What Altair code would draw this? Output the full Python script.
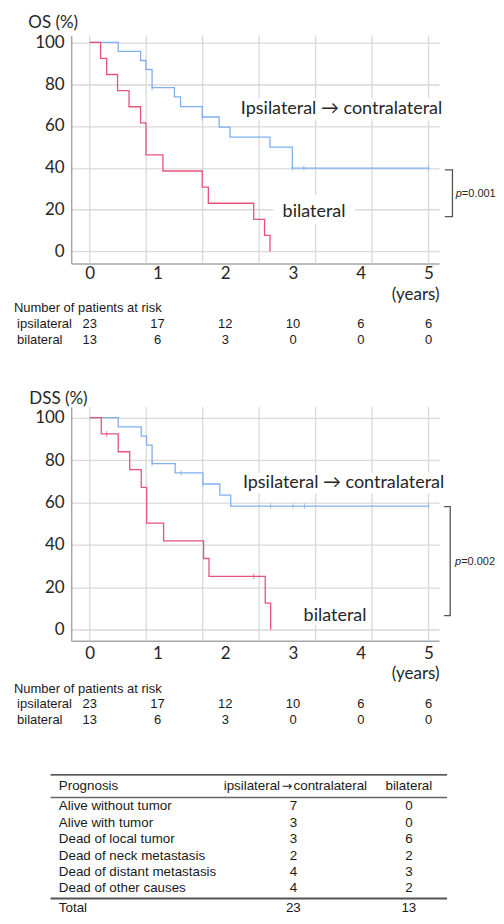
import altair as alt
import pandas as pd

# ---------------- data ----------------
years = [0, 1, 2, 3, 4, 5]
grid_months = [0, 10, 20, 30, 40, 50, 60]
y_ticks = [0, 20, 40, 60, 80, 100]

# OS curves (years, survival %)
os_ipsi_t = [0, 0.42, 0.75, 0.83, 0.92, 1.25, 1.34, 1.66, 1.91, 2.07, 2.66, 2.99, 5.0]
os_ipsi_s = [100, 95.7, 91.3, 87.0, 78.3, 73.9, 69.3, 64.3, 59.5, 54.7, 49.9, 39.9, 39.9]
os_ipsi_cens_t = [0.92, 1.66, 2.99, 3.16, 5.0]
os_ipsi_cens_s = [78.3, 64.3, 39.9, 39.9, 39.9]
os_bil_t = [0, 0.16, 0.25, 0.41, 0.58, 0.75, 0.83, 1.08, 1.66, 1.75, 2.42, 2.58, 2.66]
os_bil_s = [100, 92.3, 84.6, 76.9, 69.2, 61.5, 46.2, 38.5, 30.8, 23.1, 15.4, 7.7, 0]
os_bil_cens_t = []
os_bil_cens_s = []

# DSS curves
dss_ipsi_t = [0, 0.42, 0.76, 0.84, 0.92, 1.26, 1.67, 1.92, 2.08, 5.0]
dss_ipsi_s = [100, 95.6, 91.3, 87.0, 78.3, 73.9, 68.7, 63.5, 58.3, 58.3]
dss_ipsi_cens_t = [0.92, 1.35, 1.67, 2.67, 3.0, 3.17, 5.0]
dss_ipsi_cens_s = [78.3, 73.9, 68.7, 58.3, 58.3, 58.3, 58.3]
dss_bil_t = [0, 0.17, 0.42, 0.59, 0.76, 0.84, 1.09, 1.68, 1.76, 2.59, 2.67]
dss_bil_s = [100, 92.3, 83.9, 75.5, 67.1, 50.3, 41.9, 33.6, 25.2, 12.6, 0]
dss_bil_cens_t = [0.25, 2.42]
dss_bil_cens_s = [92.3, 25.2]

# numbers at risk
risk_years = [0, 1, 2, 3, 4, 5]
risk_ipsi = [23, 17, 12, 10, 6, 6]
risk_bil = [13, 6, 3, 0, 0, 0]

# prognosis table
prog_rows = ["Alive without tumor", "Alive with tumor", "Dead of local tumor",
             "Dead of neck metastasis", "Dead of distant metastasis", "Dead of other causes"]
prog_ipsi = [7, 3, 3, 2, 4, 4]
prog_bil = [0, 0, 6, 2, 3, 2]
prog_header = ["Prognosis", "ipsilateral", "\u2192", "contralateral", "bilateral"]

# ---------------- style ----------------
BLUE = "#80B0EE"
RED = "#E8537A"
GRID = "#D9D9D9"
AXIS = "#A6A6A6"
TXT = "#262626"
CAL = "Lato"
ARIAL = "Liberation Sans"
W = 368.6
X_DOM = [-0.274, 5.156]


def km_panel(name, ipsi, ipsi_c, bil, bil_c, y_dom, h, title_x, title_y, lab_pad,
             years_y, labels, boxes, bracket, pval):
    bx = alt.X("t:Q", scale=alt.Scale(domain=X_DOM, nice=False, zero=False),
               axis=alt.Axis(values=years, grid=False, ticks=False, domainColor=AXIS,
                             domainWidth=1.5, labelFont=CAL, labelFontSize=17,
                             labelColor=TXT, labelPadding=lab_pad, title="(years)",
                             titleFont=CAL, titleFontSize=17, titleFontWeight="normal",
                             titleColor=TXT, titleX=W, titleY=years_y, titleAlign="right",
                             titleBaseline="middle"))
    by = alt.Y("s:Q", scale=alt.Scale(domain=y_dom, nice=False, zero=False),
               axis=alt.Axis(values=y_ticks, grid=True, gridColor=GRID, gridWidth=1.3,
                             ticks=False, domainColor=AXIS, domainWidth=1.5,
                             labelFont=CAL, labelFontSize=17, labelColor=TXT,
                             labelPadding=7, title=name, titleAngle=0, titleX=title_x,
                             titleY=title_y, titleAlign="left", titleBaseline="middle",
                             titleFont=CAL, titleFontSize=17, titleFontWeight="normal",
                             titleColor=TXT))
    grid = (alt.Chart(pd.DataFrame({"m": grid_months}))
            .transform_calculate(t="datum.m / 12")
            .mark_rule(color=GRID, strokeWidth=1.3)
            .encode(x=bx))
    box = (alt.Chart(pd.DataFrame(boxes, columns=["t", "t2", "s", "s2"]))
           .mark_rect(color="white")
           .encode(x=bx, x2="t2:Q", y=by, y2="s2:Q"))
    layers = [grid, box]
    for (t, s), (ct, cs), col in [(ipsi, ipsi_c, BLUE), (bil, bil_c, RED)]:
        layers.append(alt.Chart(pd.DataFrame({"t": t, "s": s}))
                      .mark_line(interpolate="step-after", color=col, strokeWidth=1.3)
                      .encode(x=bx, y=by))
        if ct:
            layers.append(alt.Chart(pd.DataFrame({"t": ct, "s": cs}))
                          .mark_tick(orient="vertical", size=5.5, thickness=1.1, color=col)
                          .encode(x=bx, y=by))
    for lab, t, s, al in labels:
        layers.append(alt.Chart(pd.DataFrame({"t": [t], "s": [s], "label": [lab]}))
                      .mark_text(font=CAL, fontSize=18, color=TXT, align=al, baseline="middle")
                      .encode(x=bx, y=by, text="label:N"))
    layers.append(alt.Chart(pd.DataFrame({"t": [b[0] for b in bracket],
                                          "s": [b[1] for b in bracket],
                                          "i": list(range(len(bracket)))}))
                  .mark_line(color="#555555", strokeWidth=1.3)
                  .encode(x=bx, y=by, order="i:Q"))
    ptxt, pt, ps = pval
    layers.append(alt.Chart(pd.DataFrame({"t": [pt], "s": [ps], "label": ["p"]}))
                  .mark_text(font=ARIAL, fontSize=11, fontStyle="italic", color=TXT,
                             align="left", baseline="middle")
                  .encode(x=bx, y=by, text="label:N"))
    layers.append(alt.Chart(pd.DataFrame({"t": [pt], "s": [ps], "label": [ptxt]}))
                  .mark_text(font=ARIAL, fontSize=11, color=TXT, align="left",
                             baseline="middle", dx=6.2)
                  .encode(x=bx, y=by, text="label:N"))
    return alt.layer(*layers).properties(width=W, height=h)


def risk_panel(h, first_px, step):
    dom = [-first_px / step, (h - first_px) / step]
    ys = alt.Scale(domain=dom, reverse=True, nice=False, zero=False)
    xs = alt.Scale(domain=X_DOM, nice=False, zero=False)
    rows = []
    for t, a, b in zip(risk_years, risk_ipsi, risk_bil):
        rows.append({"t": t, "idx": 1, "n": str(a)})
        rows.append({"t": t, "idx": 2, "n": str(b)})
    nums = (alt.Chart(pd.DataFrame(rows))
            .mark_text(font=ARIAL, fontSize=13, color="#1a1a1a", align="center", baseline="middle")
            .encode(x=alt.X("t:Q", scale=xs, axis=None), y=alt.Y("idx:Q", scale=ys, axis=None),
                    text="n:N"))
    head = (alt.Chart(pd.DataFrame({"idx": [0], "label": ["Number of patients at risk"]}))
            .mark_text(font=ARIAL, fontSize=13, color="#1a1a1a", align="left", baseline="middle")
            .encode(x=alt.value(-57.4), y=alt.Y("idx:Q", scale=ys, axis=None), text="label:N"))
    labs = (alt.Chart(pd.DataFrame({"idx": [1, 2], "label": ["ipsilateral", "bilateral"]}))
            .mark_text(font=ARIAL, fontSize=13, color="#1a1a1a", align="left", baseline="middle")
            .encode(x=alt.value(-54.2), y=alt.Y("idx:Q", scale=ys, axis=None), text="label:N"))
    return alt.layer(nums, head, labs).properties(width=W, height=h)


def table_panel(h, shift):
    first_px, step = 53.3 - shift, 16.4
    dom = [1 - first_px / step, 1 + (h - first_px) / step]
    ys = alt.Scale(domain=dom, reverse=True, nice=False, zero=False)
    yenc = alt.Y("idx:Q", scale=ys, axis=None)
    body = pd.DataFrame({"idx": list(range(1, len(prog_rows) + 1)), "name": prog_rows,
                         "a": [str(v) for v in prog_ipsi], "b": [str(v) for v in prog_bil]})
    total = pd.DataFrame({"idx": [len(prog_rows) + 1], "name": ["Total"],
                          "a": [str(sum(prog_ipsi))], "b": [str(sum(prog_bil))]})
    cols = [("name", -12.4, "left"), ("a", 222.6, "center"), ("b", 338.3, "center")]
    layers = []
    for df, dy in [(body, 0), (total, 3.2)]:
        for f, xp, al in cols:
            layers.append(alt.Chart(df)
                          .mark_text(font=ARIAL, fontSize=13.4, color="#1a1a1a", align=al,
                                     baseline="middle", dy=dy)
                          .encode(x=alt.value(xp), y=yenc, text=f"{f}:N"))
    # header row
    hdr = pd.DataFrame({"idx": [0] * 5, "label": prog_header,
                        "k": list(range(5))})
    hspec = [(0, -12.4, "left", ARIAL, 13.4), (1, 209.3, "right", ARIAL, 13.4),
             (2, 216.3, "center", "DejaVu Sans", 12.5), (3, 222.8, "left", ARIAL, 13.4),
             (4, 338.3, "center", ARIAL, 13.4)]
    for k, xp, al, fnt, fs in hspec:
        layers.append(alt.Chart(hdr[hdr["k"] == k])
                      .mark_text(font=fnt, fontSize=fs, color="#1a1a1a", align=al,
                                 baseline="middle", dy=-3.6)
                      .encode(x=alt.value(xp), y=yenc, text="label:N"))
    for yp, col, wdt in [(21.7, "#222222", 1.3), (44.3, "#666666", 1.3), (145.5, "#555555", 2)]:
        layers.append(alt.Chart(pd.DataFrame({"k": [0]}))
                      .mark_rule(color=col, strokeWidth=wdt)
                      .encode(x=alt.value(-20.7), x2=alt.value(376.6), y=alt.value(yp - shift)))
    return alt.layer(*layers).properties(width=W, height=h)


p_os = km_panel(
    "OS (%)", (os_ipsi_t, os_ipsi_s), (os_ipsi_cens_t, os_ipsi_cens_s),
    (os_bil_t, os_bil_s), (os_bil_cens_t, os_bil_cens_s),
    [-5.72, 103.2], 228.4, -43.4, -13, 2, 31,
    [("Ipsilateral \u2192 contralateral", 2.23, 68.0, "left"), ("bilateral", 3.31, 19.1, "center")],
    [(2.16, 5.17, 62.8, 73.3), (2.71, 3.915, 13.2, 27.0)],
    [(5.24, 39.0), (5.353, 39.0), (5.353, 16.7), (5.24, 16.7)],
    ("=0.001", 5.40, 27.7))

p_dss = km_panel(
    "DSS (%)", (dss_ipsi_t, dss_ipsi_s), (dss_ipsi_cens_t, dss_ipsi_cens_s),
    (dss_bil_t, dss_bil_s), (dss_bil_cens_t, dss_bil_cens_s),
    [-5.17, 105.03], 234.3, -42.4, -8.3, 4.5, 33,
    [("Ipsilateral \u2192 contralateral", 2.26, 69.0, "left"), ("bilateral", 3.62, 6.3, "center")],
    [(2.19, 5.17, 64.2, 74.0), (3.07, 4.11, 2.5, 14.3)],
    [(5.23, 58.0), (5.32, 58.0), (5.32, 6.7), (5.23, 6.7)],
    ("=0.002", 5.39, 32.1))

chart = alt.vconcat(
    p_os, risk_panel(142.3, 44.3, 16.0), p_dss, risk_panel(120.7, 47.4, 15.5),
    table_panel(150, 9),
    spacing=0, bounds="flush",
    padding={"left": 5.3, "top": 4.8, "right": 0, "bottom": 0},
).configure_view(stroke=None)

chart.save("out.html", embed_options={"renderer": "svg", "actions": False})
